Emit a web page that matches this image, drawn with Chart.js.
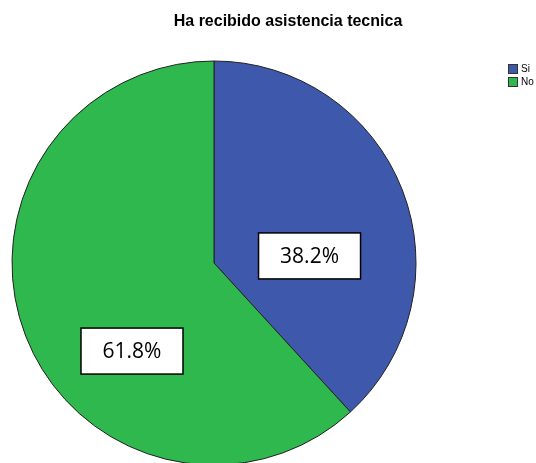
<!DOCTYPE html>
<html lang="es">
<head>
  <meta charset="UTF-8" />
  <title>Ha recibido asistencia tecnica</title>
  <script src="https://cdn.jsdelivr.net/npm/chart.js"></script>
  <style>
    html, body {
      margin: 0;
      padding: 0;
      background: #fff;
    }
    #wrap {
      width: 536px;
      height: 463px;
    }
  </style>
</head>
<body>
  <div id="wrap"><canvas id="pieChart"></canvas></div>

  <script>
    const titleText = "Ha recibido asistencia tecnica";
    const categories = ["Si", "No"];
    const percentages = [38.2, 61.8];
    const sliceColors = ["#3e58ac", "#2eb84e"];
    // label box centres, as fractions of the radius from the pie centre
    const labelOffsets = [[0.473, -0.035], [-0.406, 0.436]];

    const overlay = {
      id: "overlay",
      afterDraw(chart) {
        const ctx = chart.ctx;
        const meta = chart.getDatasetMeta(0);

        // title
        ctx.save();
        ctx.fillStyle = "#000";
        ctx.font = "bold 16px 'Liberation Sans', Arial, sans-serif";
        ctx.textAlign = "center";
        ctx.textBaseline = "middle";
        ctx.fillText(titleText, 288, 22);
        ctx.restore();

        // legend
        ctx.save();
        ctx.font = "10px 'Liberation Sans', Arial, sans-serif";
        ctx.textBaseline = "middle";
        categories.forEach((c, i) => {
          const y = 64 + i * 13;
          ctx.fillStyle = sliceColors[i];
          ctx.fillRect(508, y, 10, 10);
          ctx.strokeStyle = "#333";
          ctx.lineWidth = 1;
          ctx.strokeRect(508.5, y + 0.5, 9, 9);
          ctx.fillStyle = "#000";
          ctx.fillText(c, 521, y + 5);
        });
        ctx.restore();

        // percentage boxes
        ctx.save();
        ctx.font = "21px 'Open Sans', sans-serif";
        ctx.textAlign = "center";
        ctx.textBaseline = "middle";
        meta.data.forEach((arc, i) => {
          const r = arc.outerRadius;
          const cx = arc.x + labelOffsets[i][0] * r;
          const cy = arc.y + labelOffsets[i][1] * r;
          const w = 102, h = 46;
          ctx.fillStyle = "#fff";
          ctx.fillRect(cx - w / 2, cy - h / 2, w, h);
          ctx.strokeStyle = "#000";
          ctx.lineWidth = 1.5;
          ctx.strokeRect(cx - w / 2, cy - h / 2, w, h);
          ctx.fillStyle = "#000";
          ctx.fillText(percentages[i].toFixed(1) + "%", cx, cy + 1);
        });
        ctx.restore();
      }
    };

    new Chart(document.getElementById("pieChart"), {
      type: "pie",
      data: {
        labels: categories,
        datasets: [{
          data: percentages,
          backgroundColor: sliceColors,
          borderColor: "#222",
          borderWidth: 1,
          radius: 202
        }]
      },
      options: {
        responsive: true,
        maintainAspectRatio: false,
        animation: false,
        layout: {
          padding: { left: 12, right: 120, top: 63, bottom: 0 }
        },
        plugins: {
          legend: { display: false },
          title: { display: false },
          tooltip: { enabled: false }
        }
      },
      plugins: [overlay]
    });
  </script>
</body>
</html>
